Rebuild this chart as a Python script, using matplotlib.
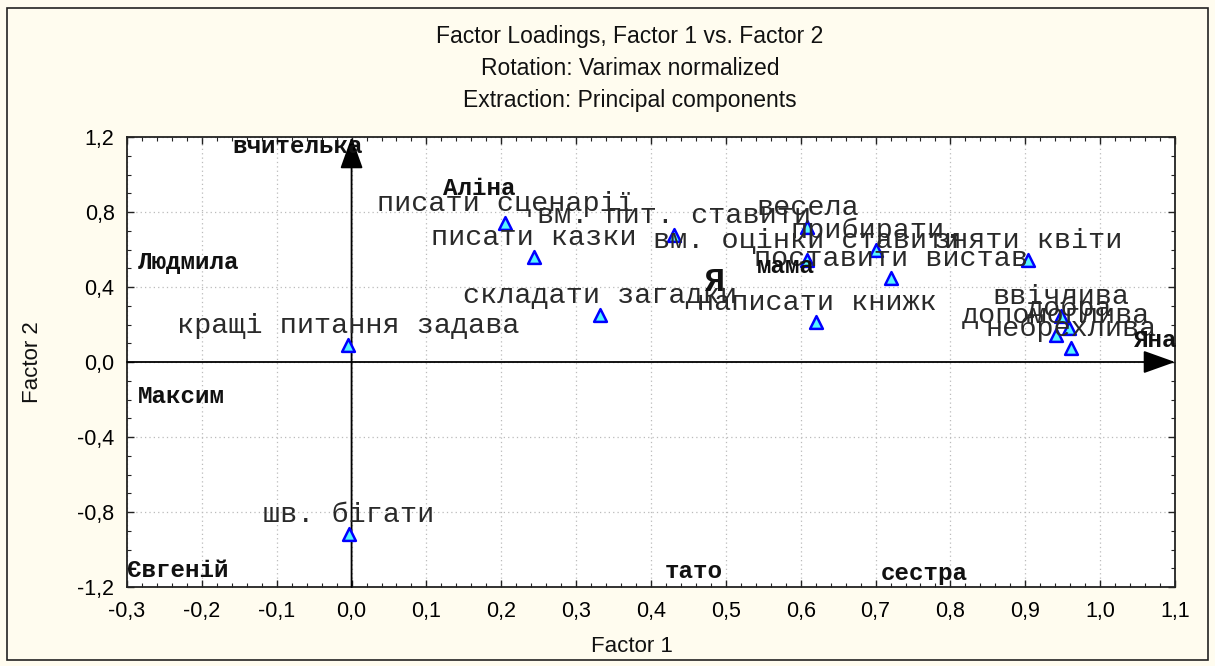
import matplotlib
matplotlib.use("Agg")
import matplotlib.pyplot as plt
from matplotlib.ticker import MultipleLocator, FuncFormatter
from matplotlib.patches import Rectangle

# ---- data ----
point_labels = ["кращі питання задава", "шв. бігати", "писати сценарії", "писати казки",
                "складати загадки", "вм. пит. ставити", "весела", "прибирати.",
                "вм. оцінки ставити", "поставити вистав", "зняти квіти", "написати книжк",
                "ввічлива", "добра", "допомоглива", "небрехлива"]
factor1 = [-0.005, -0.004, 0.205, 0.244, 0.332, 0.431, 0.609, 0.701,
           0.609, 0.721, 0.904, 0.621, 0.948, 0.959, 0.941, 0.961]
factor2 = [0.09, -0.917, 0.74, 0.56, 0.25, 0.68, 0.72, 0.60,
           0.544, 0.448, 0.544, 0.213, 0.245, 0.18, 0.144, 0.075]

name_labels = ["вчителька", "Аліна", "Людмила", "Максим", "Євгеній", "тато", "сестра", "Яна", "мама", "Я"]
name_x = [-0.159, 0.122, -0.285, -0.286, -0.30, 0.418, 0.707, 1.045, 0.541, 0.471]
name_y = [1.115, 0.89, 0.496, -0.219, -1.147, -1.152, -1.163, 0.08, 0.475, 0.38]
name_sizes = [17.5, 17.5, 17.5, 17.5, 17.5, 17.5, 17.5, 17.5, 17.5, 24]

title_lines = ["Factor Loadings, Factor 1 vs. Factor 2",
               "Rotation: Varimax normalized",
               "Extraction: Principal components"]
x_label = "Factor 1"
y_label = "Factor 2"
x_range = (-0.3, 1.1)
y_range = (-1.2, 1.2)

# ---- figure ----
W, H, DPI = 1215, 666, 100
bg = "#FFFCEF"
fig = plt.figure(figsize=(W / DPI, H / DPI), dpi=DPI, facecolor=bg)
fig.patches.append(Rectangle((7 / W, 6 / H), 1201 / W, 652 / H, transform=fig.transFigure,
                             fill=False, edgecolor="#222222", lw=1.2))

ax = fig.add_axes([127 / W, 1 - 587 / H, (1175 - 127) / W, (587 - 137) / H])
ax.set_facecolor("white")
ax.set_xlim(*x_range)
ax.set_ylim(*y_range)

ax.xaxis.set_major_locator(MultipleLocator(0.1))
ax.xaxis.set_minor_locator(MultipleLocator(0.02))
ax.yaxis.set_major_locator(MultipleLocator(0.4))
ax.yaxis.set_minor_locator(MultipleLocator(0.1))
fmt = FuncFormatter(lambda v, p: f"{v:.1f}".replace(".", ",").replace("-0,0", "0,0"))
ax.xaxis.set_major_formatter(fmt)
ax.yaxis.set_major_formatter(fmt)
ax.tick_params(which="both", direction="in", top=True, right=True, color="#222222")
ax.tick_params(which="major", length=5, width=1, labelsize=15.5)
ax.tick_params(axis="x", which="major", pad=10)
ax.tick_params(axis="y", which="major", pad=9)
ax.tick_params(which="minor", length=3, width=0.8)
for lbl in ax.get_xticklabels() + ax.get_yticklabels():
    lbl.set_fontfamily("Liberation Sans")
for s in ax.spines.values():
    s.set_linewidth(1.3)
    s.set_color("#222222")
ax.grid(True, which="major", color="#BBBBBB", linestyle=(0, (1, 2.5)), lw=0.9)
ax.set_axisbelow(True)

# axis arrows through origin
arrow_kw = dict(arrowstyle="-|>,head_length=0.95,head_width=0.34", color="black", lw=1.3,
                mutation_scale=21, shrinkA=0, shrinkB=0)
ax.annotate("", xy=(x_range[1], 0), xytext=(x_range[0], 0), arrowprops=arrow_kw, zorder=3)
ax.annotate("", xy=(0, y_range[1]), xytext=(0, y_range[0]), arrowprops=arrow_kw, zorder=3)

# points
ax.scatter(factor1, factor2, marker="^", s=85, facecolor="#55F5FF", edgecolor="#0000FF",
           linewidths=1.8, zorder=4)
for lab, x, y in zip(point_labels, factor1, factor2):
    ax.annotate(lab, (x, y), xytext=(0, 8.5), textcoords="offset points", ha="center",
                va="baseline", fontsize=20.5, family="Liberation Mono", color="#2a2a2a", zorder=5)

# name labels
for lab, x, y, fs in zip(name_labels, name_x, name_y, name_sizes):
    ax.text(x, y, lab, ha="left", va="baseline", fontsize=fs, family="Liberation Mono",
            fontweight="bold", color="#111111", zorder=6)

# titles and axis labels
for i, t in enumerate(title_lines):
    fig.text(630 / W, 1 - (37 + 31.5 * i) / H, t, ha="center", va="center",
             fontsize=16.5, family="Liberation Sans", color="#111111")
fig.text(632 / W, 1 - 647 / H, x_label, ha="center", va="center", fontsize=16,
         family="Liberation Sans", color="#111111")
fig.text(32 / W, 1 - 362 / H, y_label, ha="center", va="center", rotation=90, fontsize=16,
         family="Liberation Sans", color="#111111")

fig.savefig("out.png", dpi=DPI, facecolor=bg)
